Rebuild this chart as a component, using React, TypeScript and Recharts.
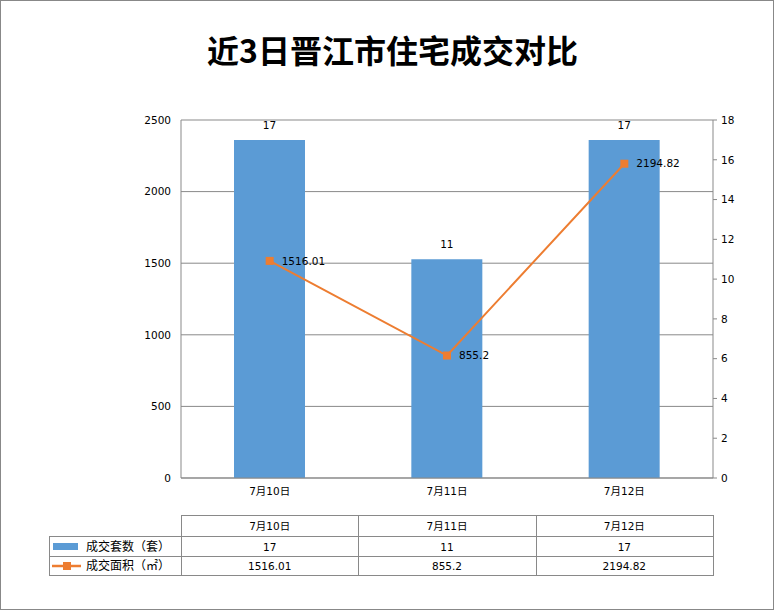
import React from 'react';
import { ComposedChart, Bar, Line, XAxis, YAxis, CartesianGrid, LabelList } from 'recharts';

const categories = ['7月10日', '7月11日', '7月12日'];
const unitCounts = [17, 11, 17];
const areaValues = [1516.01, 855.2, 2194.82];
const leftTicks = [0, 500, 1000, 1500, 2000, 2500];
const rightTicks = [0, 2, 4, 6, 8, 10, 12, 14, 16, 18];
const seriesNames = ['成交套数（套）', '成交面积（㎡）'];
const title = '近3日晋江市住宅成交对比';

const BLUE = '#5B9BD5';
const ORANGE = '#ED7D31';
const GRID = '#898989';
const FONT = "'DejaVu Sans', 'Noto Sans CJK SC', sans-serif";
const FS = 10.5;

const data = categories.map((c, i) => ({ name: c, units: unitCounts[i], area: areaValues[i] }));

const W = 775;
const H = 611;
const plotLeft = 181;
const plotRight = 713;
const tableLeft = 49;
const rowYs = [515, 536, 556, 575];

const SquareDot = (p: any) => {
  if (p.cx == null || p.cy == null) return <g key={p.index} />;
  return <rect key={p.index} x={p.cx - 4} y={p.cy - 4} width={8} height={8} fill={ORANGE} />;
};

function DataTable() {
  const n = categories.length;
  const colW = (plotRight - plotLeft) / n;
  const colXs = categories.map((_, i) => plotLeft + i * colW);
  const c = (v: number) => Math.round(v) + 0.5;
  const lines: React.ReactElement[] = [];
  lines.push(<line key="h0" x1={plotLeft} x2={plotRight + 1} y1={c(rowYs[0])} y2={c(rowYs[0])} />);
  for (let r = 1; r < rowYs.length; r++) {
    lines.push(<line key={'h' + r} x1={tableLeft} x2={plotRight + 1} y1={c(rowYs[r])} y2={c(rowYs[r])} />);
  }
  lines.push(<line key="vl" x1={c(tableLeft)} x2={c(tableLeft)} y1={rowYs[1]} y2={rowYs[3] + 1} />);
  [...colXs, plotRight].forEach((x, i) => {
    lines.push(<line key={'v' + i} x1={c(x)} x2={c(x)} y1={rowYs[0]} y2={rowYs[3] + 1} />);
  });
  const rowCenter = (r: number) => (rowYs[r] + rowYs[r + 1]) / 2 + 0.5;
  const rows = [unitCounts.map(String), areaValues.map(String)];
  return (
    <svg width={W} height={H} style={{ position: 'absolute', left: 0, top: 0, pointerEvents: 'none' }}>
      <g stroke={GRID} strokeWidth={1}>{lines}</g>
      <g fontFamily={FONT} fontSize={FS} fill="#000" textAnchor="middle" dominantBaseline="central">
        {categories.map((cat, i) => (
          <text key={'hc' + i} x={colXs[i] + colW / 2} y={rowCenter(0)}>{cat}</text>
        ))}
        {rows.map((row, r) =>
          row.map((v, i) => (
            <text key={'r' + r + i} x={colXs[i] + colW / 2} y={rowCenter(r + 1)}>{v}</text>
          ))
        )}
      </g>
      <rect x={53} y={rowCenter(1) - 3.5} width={25} height={7} fill={BLUE} />
      <line x1={52} x2={81} y1={rowCenter(2)} y2={rowCenter(2)} stroke={ORANGE} strokeWidth={2.5} />
      <rect x={63} y={rowCenter(2) - 4} width={8} height={8} fill={ORANGE} />
      <g fontFamily={FONT} fontSize={12} fill="#000" dominantBaseline="central">
        <text x={86} y={rowCenter(1)}>{seriesNames[0]}</text>
        <text x={86} y={rowCenter(2)}>{seriesNames[1]}</text>
      </g>
    </svg>
  );
}

export default function App() {
  return (
    <div style={{ position: 'absolute', left: 0, top: 0, width: W, height: H, background: '#fff', fontFamily: FONT }}>
      <div
        style={{
          position: 'absolute', left: 0, top: 0, width: W - 1, height: H - 1,
          border: '1px solid #888', boxSizing: 'border-box',
        }}
      />
      <div
        style={{
          position: 'absolute', left: 5, top: 33, width: W, textAlign: 'center',
          fontFamily: "'Noto Sans CJK SC', sans-serif", fontWeight: 700, fontSize: 32, lineHeight: '32px', color: '#000',
        }}
      >
        {title}
      </div>
      <div style={{ position: 'absolute', left: 0, top: 0 }}>
        <ComposedChart width={W} height={500} data={data} margin={{ top: 120, right: 0, bottom: 0, left: 0 }}>
          <CartesianGrid yAxisId="left" vertical={false} stroke={GRID} />
          <XAxis
            dataKey="name"
            height={22}
            axisLine={{ stroke: GRID }}
            tickLine={false}
            tickMargin={4}
            tick={{ fill: '#000', fontSize: FS }}
          />
          <YAxis
            yAxisId="left"
            orientation="left"
            width={181}
            domain={[0, 2500]}
            ticks={leftTicks}
            interval={0}
            axisLine={{ stroke: GRID }}
            tickLine={false}
            tickMargin={4}
            tick={{ fill: '#000', fontSize: FS }}
          />
          <YAxis
            yAxisId="right"
            orientation="right"
            width={62}
            domain={[0, 18]}
            ticks={rightTicks}
            interval={0}
            axisLine={{ stroke: GRID }}
            tickLine={{ stroke: GRID }}
            tickSize={4}
            tickMargin={4}
            tick={{ fill: '#000', fontSize: FS }}
          />
          <Bar yAxisId="right" dataKey="units" fill={BLUE} barSize={71} isAnimationActive={false}>
            <LabelList dataKey="units" position="top" offset={11} fill="#000" fontSize={FS} />
          </Bar>
          <Line
            yAxisId="left"
            dataKey="area"
            stroke={ORANGE}
            strokeWidth={2}
            dot={SquareDot}
            activeDot={false}
            isAnimationActive={false}
          >
            <LabelList dataKey="area" position="right" offset={12} fill="#000" fontSize={FS} />
          </Line>
        </ComposedChart>
      </div>
      <DataTable />
    </div>
  );
}
